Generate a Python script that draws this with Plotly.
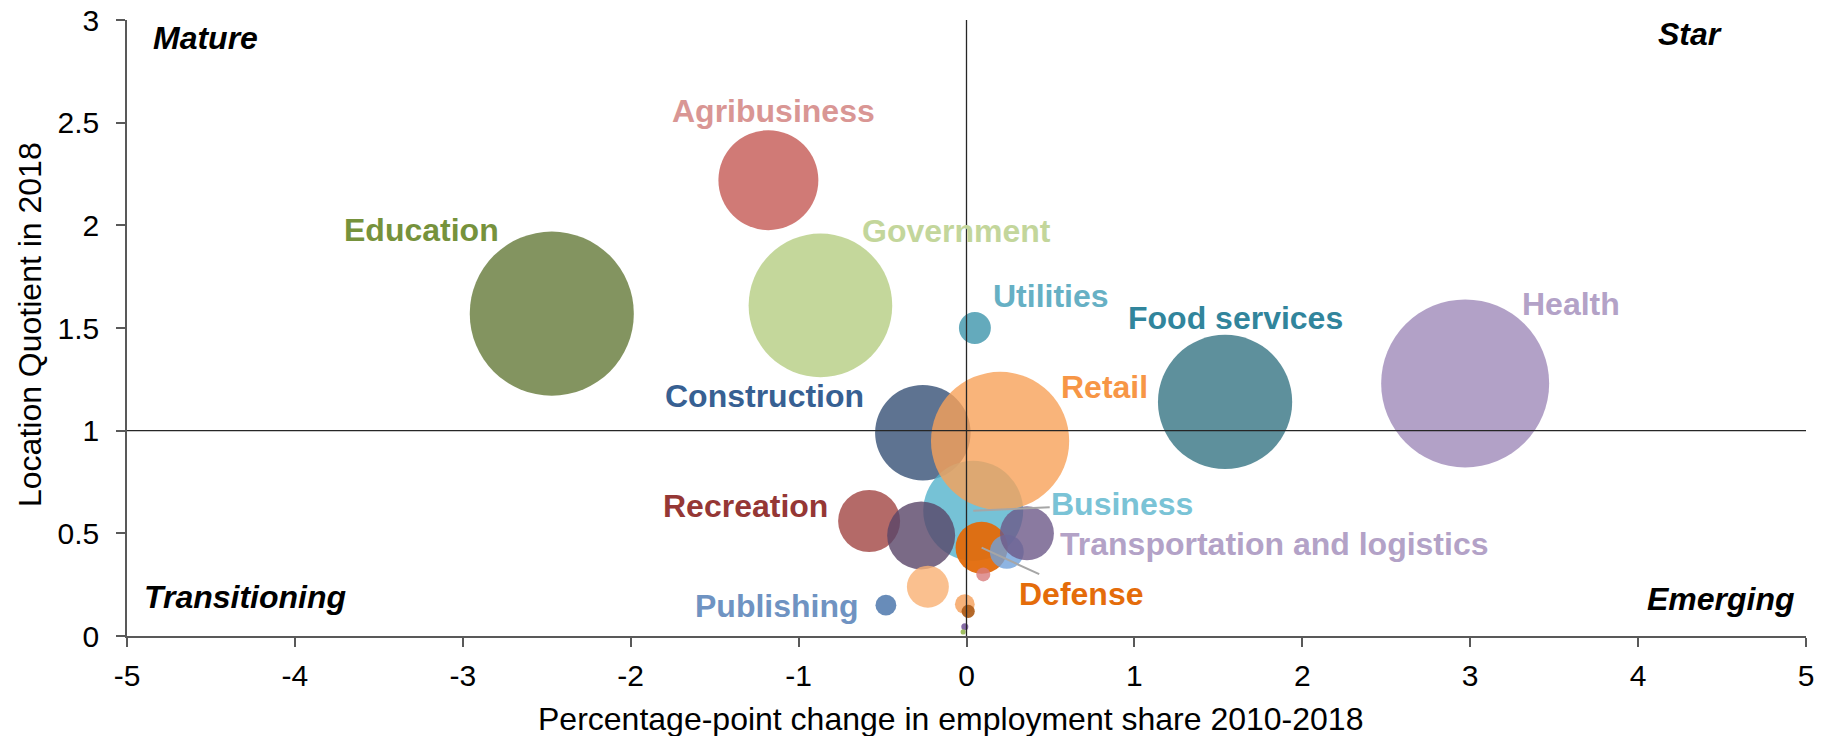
import plotly.graph_objects as go

# sectors in drawing order (later ones are painted on top)
sectors = [
    "Education", "Agribusiness", "Government", "Health", "Food services", "Utilities",
    "Construction", "Business", "Retail", "Recreation", "Other (a)", "Defense",
    "Other (b)", "Transportation and logistics", "Other (c)", "Other (d)", "Publishing",
    "Other (e)", "Other (f)", "Other (g)", "Other (h)",
]
share_change = [
    -2.47, -1.18, -0.87, 2.97, 1.54, 0.05,
    -0.26, 0.04, 0.20, -0.58, -0.27, 0.09,
    0.24, 0.36, 0.10, -0.23, -0.48,
    -0.01, 0.01, -0.01, -0.02,
]
location_quotient = [
    1.57, 2.22, 1.61, 1.23, 1.14, 1.50,
    0.99, 0.61, 0.95, 0.56, 0.49, 0.43,
    0.41, 0.50, 0.30, 0.24, 0.15,
    0.155, 0.12, 0.045, 0.02,
]
employment_share = [
    12.4, 4.6, 9.5, 13.0, 8.3, 0.47,
    4.2, 4.6, 8.8, 1.77, 2.13, 1.25,
    0.53, 1.34, 0.09, 0.81, 0.20,
    0.18, 0.08, 0.023, 0.012,
]
x_ticks = [-5, -4, -3, -2, -1, 0, 1, 2, 3, 4, 5]
x_tick_labels = ["-5", "-4", "-3", "-2", "-1", "0", "1", "2", "3", "4", "5"]
y_ticks = [0, 0.5, 1, 1.5, 2, 2.5, 3]
y_tick_labels = ["0", "0.5", "1", "1.5", "2", "2.5", "3"]

bubble_colors = [
    "rgba(100,121,56,0.8)", "rgba(196,89,84,0.8)", "rgba(181,205,130,0.8)",
    "rgba(159,137,185,0.8)", "rgba(54,116,131,0.8)", "rgba(61,149,171,0.8)",
    "rgba(54,80,118,0.8)", "rgba(84,179,204,0.8)", "rgba(247,161,89,0.8)",
    "rgba(161,69,66,0.8)", "rgba(89,69,104,0.8)", "rgba(227,106,10,0.95)",
    "rgba(113,161,219,0.8)", "rgba(109,89,136,0.8)", "rgba(216,124,124,0.8)",
    "rgba(249,176,115,0.8)", "rgba(66,111,168,0.8)", "rgba(245,159,89,0.8)",
    "rgba(176,96,30,0.95)", "rgba(128,100,162,0.95)", "rgba(155,187,89,0.95)",
]

# label styling: colour and pixel offset of the text centre from the bubble centre
labels = {
    "Education": ("#76923c", -130, 84),
    "Agribusiness": ("#d99694", 5, 69),
    "Government": ("#c3d69b", 136, 74),
    "Utilities": ("#66b0c4", 76, 32),
    "Food services": ("#31859c", 10, 84),
    "Health": ("#b3a2c7", 106, 79),
    "Construction": ("#376092", -158, 37),
    "Retail": ("#f79646", 104, 54),
    "Recreation": ("#953735", -124, 15),
    "Publishing": ("#6f93c2", -109, -1),
    "Transportation and logistics": ("#b3a2c7", 248, -11),
}
# labels with a leader line: colour, ax, ay (pixels)
leader_labels = {
    "Business": ("#7ac3d6", 149, -7),
    "Defense": ("#e46c0a", 100, 46),
}

FONT = "Liberation Sans, Arial, sans-serif"
PAGE_PAD = 8  # default body margin of the html page
W, H = 1831 - PAGE_PAD, 736 - PAGE_PAD
L, R, T, B = 127 - PAGE_PAD, 25, 20 - PAGE_PAD, 100
max_diameter = 168
sizeref = 2.0 * max(employment_share) / max_diameter ** 2

fig = go.Figure()
fig.add_trace(go.Scatter(
    x=share_change, y=location_quotient,
    mode="markers",
    text=sectors,
    hovertemplate="%{text}<br>%{x:.2f} pp<br>LQ %{y:.2f}<extra></extra>",
    marker=dict(
        size=employment_share, sizemode="area", sizeref=sizeref, opacity=1,
        color=bubble_colors, line=dict(width=0),
    ),
    showlegend=False,
))

fig.add_vline(x=0, line=dict(color="#262626", width=1.3), layer="above")
fig.add_hline(y=1, line=dict(color="#262626", width=1.3), layer="above")

annotations = []
for name, (color, dx, dy) in labels.items():
    i = sectors.index(name)
    annotations.append(dict(
        x=share_change[i], y=location_quotient[i], text=f"<b>{name}</b>",
        showarrow=False, xshift=dx, yshift=dy,
        font=dict(family=FONT, size=32, color=color),
    ))
for name, (color, ax, ay) in leader_labels.items():
    i = sectors.index(name)
    annotations.append(dict(
        x=share_change[i], y=location_quotient[i], text=f"<b>{name}</b>",
        showarrow=True, arrowhead=0, arrowwidth=2, arrowcolor="#a6a6a6",
        ax=ax, ay=ay, standoff=0,
        font=dict(family=FONT, size=32, color=color),
    ))

def px_to_paper(px, py):
    # screen pixel -> paper fraction of the plot area
    return (px - PAGE_PAD - L) / (W - L - R), (H + PAGE_PAD - B - py) / (H - T - B)

for text, px, py in [("Mature", 205, 38), ("Star", 1690, 34),
                     ("Transitioning", 245, 597), ("Emerging", 1721, 599)]:
    xp, yp = px_to_paper(px, py)
    annotations.append(dict(
        x=xp, y=yp, xref="paper", yref="paper", text=f"<b><i>{text}</i></b>",
        xanchor="center", yanchor="middle",
        showarrow=False, font=dict(family=FONT, size=32, color="black"),
    ))

xp, yp = px_to_paper(950, 719)
annotations.append(dict(
    x=xp, y=yp, xref="paper", yref="paper",
    text="Percentage-point change in employment share 2010-2018",
    xanchor="center", yanchor="middle",
    showarrow=False, font=dict(family=FONT, size=32, color="black"),
))
xp, yp = px_to_paper(30, 325)
annotations.append(dict(
    x=xp, y=yp, xref="paper", yref="paper", text="Location Quotient in 2018",
    xanchor="center", yanchor="middle",
    textangle=-90, showarrow=False, font=dict(family=FONT, size=32, color="black"),
))

axis_style = dict(
    showgrid=False, zeroline=False, showline=True, linecolor="#595959", linewidth=1.5,
    ticks="outside", ticklen=9, tickcolor="#595959", tickwidth=1.5, automargin=False,
    ticklabeloverflow="allow",
    tickfont=dict(family=FONT, size=30, color="black"),
)
fig.update_xaxes(range=[-5, 5], tickvals=x_ticks, ticktext=x_tick_labels,
                 ticklabelstandoff=3, **axis_style)
fig.update_yaxes(range=[0, 3], tickvals=y_ticks, ticktext=y_tick_labels,
                 ticklabelstandoff=11, **axis_style)

fig.update_layout(
    width=W, height=H,
    margin=dict(l=L, r=R, t=T, b=B, autoexpand=False),
    plot_bgcolor="white", paper_bgcolor="white",
    font=dict(family=FONT),
    annotations=annotations,
)

fig.write_html("out.html")
